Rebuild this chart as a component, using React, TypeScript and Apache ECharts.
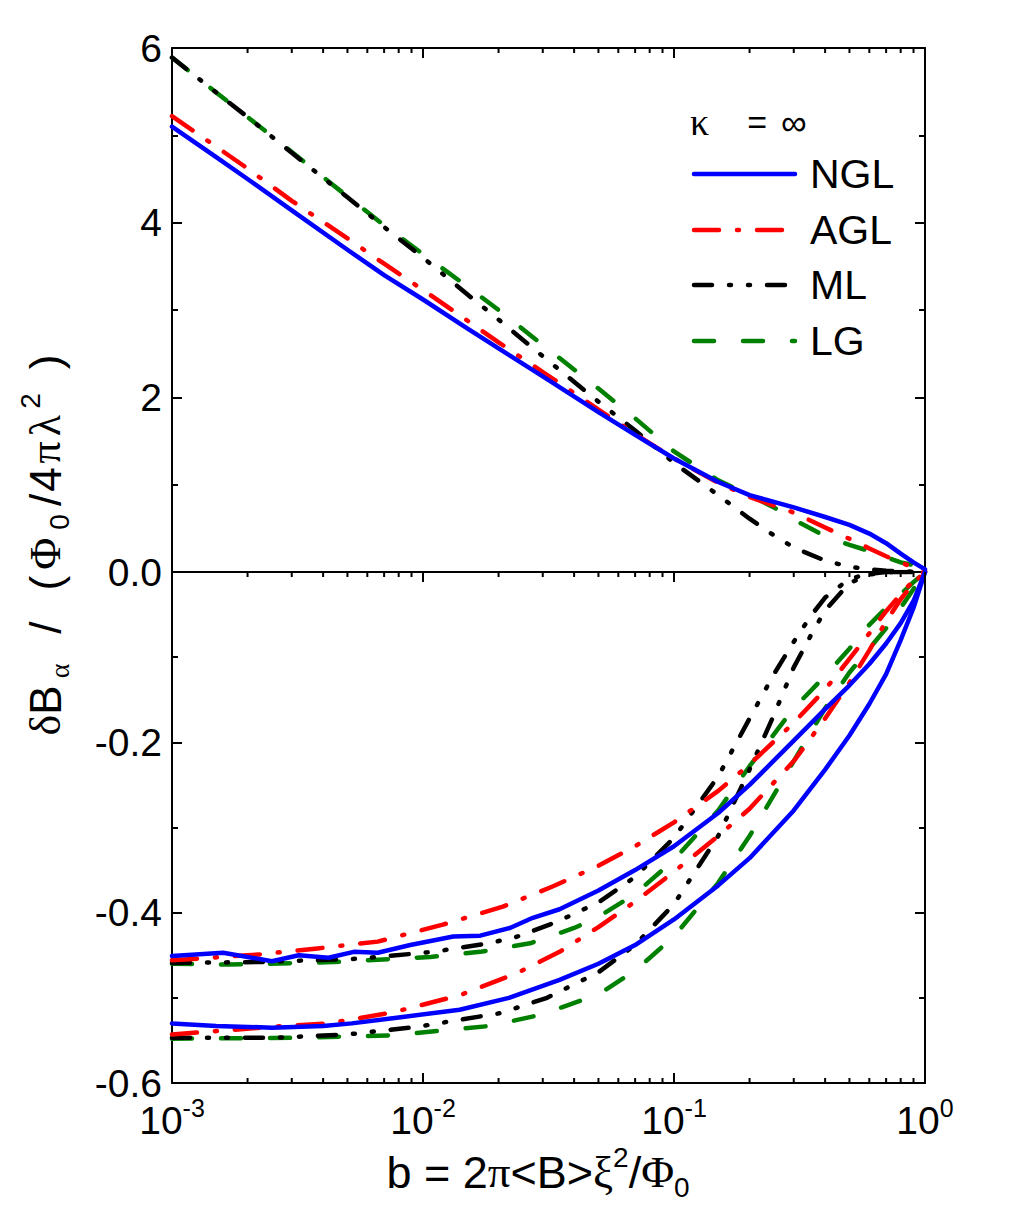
import React, { useEffect, useRef } from "react";
import * as echarts from "echarts";

// ---------- data (b, value) ----------
// upper panel (0 .. 6)
const nglTop: number[][] = [[0.001,5.10],[0.0015,4.75],[0.002,4.50],[0.003,4.14],[0.005,3.69],[0.007,3.40],[0.01,3.12],[0.015,2.79],[0.02,2.56],[0.03,2.24],[0.05,1.83],[0.07,1.57],[0.1,1.30],[0.15,1.03],[0.2,0.88],[0.3,0.74],[0.4,0.63],[0.5,0.54],[0.6,0.44],[0.7,0.33],[0.8,0.21],[0.9,0.11],[1.0,0.03]];
const aglTop: number[][] = [[0.001,5.22],[0.0015,4.87],[0.002,4.62],[0.003,4.25],[0.005,3.82],[0.007,3.53],[0.01,3.23],[0.015,2.88],[0.02,2.63],[0.03,2.29],[0.05,1.86],[0.07,1.58],[0.1,1.30],[0.15,1.02],[0.2,0.86],[0.3,0.68],[0.4,0.51],[0.5,0.38],[0.6,0.27],[0.7,0.18],[0.8,0.11],[0.9,0.05],[1.0,0.01]];
const mlTop: number[][] = [[0.001,5.89],[0.0015,5.49],[0.002,5.21],[0.003,4.80],[0.005,4.29],[0.007,3.95],[0.01,3.60],[0.015,3.18],[0.02,2.89],[0.03,2.47],[0.05,1.95],[0.07,1.62],[0.1,1.25],[0.15,0.88],[0.2,0.61],[0.25,0.42],[0.3,0.28],[0.4,0.13],[0.5,0.06],[0.6,0.03],[0.7,0.015],[0.8,0.008],[0.9,0.003],[1.0,0]];
const lgTop: number[][] = [[0.001,5.89],[0.0015,5.49],[0.002,5.21],[0.003,4.81],[0.005,4.30],[0.007,3.97],[0.01,3.64],[0.015,3.27],[0.02,3.00],[0.03,2.60],[0.05,2.10],[0.07,1.76],[0.1,1.38],[0.15,1.05],[0.2,0.88],[0.25,0.74],[0.3,0.60],[0.4,0.41],[0.5,0.31],[0.6,0.24],[0.7,0.17],[0.8,0.11],[0.9,0.08],[1.0,0.05]];

// lower panel (-0.6 .. 0), set A (starting near -0.45) and set B (starting near -0.54)
const nglA: number[][] = [[0.001,-0.451],[0.0016,-0.447],[0.0025,-0.457],[0.0032,-0.450],[0.0042,-0.453],[0.0053,-0.446],[0.0066,-0.447],[0.0089,-0.438],[0.0132,-0.428],[0.0169,-0.427],[0.0222,-0.418],[0.0274,-0.406],[0.035,-0.396],[0.05,-0.374],[0.07,-0.350],[0.1,-0.322],[0.15,-0.283],[0.2,-0.250],[0.3,-0.198],[0.4,-0.161],[0.5,-0.133],[0.6,-0.108],[0.7,-0.084],[0.8,-0.060],[0.9,-0.034],[1.0,0]];
const nglB: number[][] = [[0.001,-0.530],[0.0015,-0.533],[0.0025,-0.535],[0.004,-0.533],[0.0052,-0.530],[0.008,-0.523],[0.014,-0.514],[0.022,-0.500],[0.035,-0.479],[0.05,-0.460],[0.07,-0.438],[0.1,-0.408],[0.15,-0.368],[0.2,-0.336],[0.3,-0.280],[0.4,-0.232],[0.5,-0.192],[0.6,-0.155],[0.7,-0.120],[0.8,-0.080],[0.9,-0.042],[1.0,0]];
const aglA: number[][] = [[0.001,-0.456],[0.00224,-0.449],[0.0038,-0.442],[0.0066,-0.434],[0.012,-0.414],[0.0208,-0.393],[0.033,-0.369],[0.05,-0.345],[0.07,-0.322],[0.1,-0.294],[0.15,-0.257],[0.2,-0.226],[0.3,-0.177],[0.4,-0.138],[0.5,-0.102],[0.6,-0.072],[0.7,-0.046],[0.8,-0.026],[0.9,-0.010],[1.0,0]];
const aglB: number[][] = [[0.001,-0.543],[0.0025,-0.534],[0.0042,-0.530],[0.0076,-0.517],[0.014,-0.497],[0.0237,-0.471],[0.035,-0.446],[0.05,-0.417],[0.07,-0.387],[0.1,-0.352],[0.15,-0.310],[0.2,-0.278],[0.3,-0.222],[0.4,-0.172],[0.5,-0.130],[0.6,-0.092],[0.7,-0.058],[0.8,-0.032],[0.9,-0.013],[1.0,0]];
const mlA: number[][] = [[0.001,-0.459],[0.0022,-0.458],[0.0056,-0.454],[0.011,-0.446],[0.0173,-0.437],[0.0228,-0.430],[0.034,-0.411],[0.05,-0.388],[0.07,-0.358],[0.1,-0.312],[0.15,-0.240],[0.2,-0.172],[0.25,-0.120],[0.3,-0.082],[0.35,-0.052],[0.4,-0.030],[0.5,-0.008],[0.6,-0.002],[0.7,0],[0.8,0],[0.9,0],[1.0,0]];
const mlB: number[][] = [[0.001,-0.547],[0.0025,-0.547],[0.005,-0.543],[0.0095,-0.534],[0.0203,-0.518],[0.0312,-0.500],[0.05,-0.470],[0.07,-0.438],[0.1,-0.390],[0.15,-0.310],[0.2,-0.232],[0.25,-0.168],[0.3,-0.112],[0.35,-0.075],[0.4,-0.045],[0.5,-0.013],[0.6,-0.003],[0.7,0],[0.8,0],[0.9,0],[1.0,0]];
const lgA: number[][] = [[0.001,-0.460],[0.0017,-0.461],[0.0044,-0.458],[0.0107,-0.452],[0.0169,-0.446],[0.0267,-0.436],[0.04,-0.418],[0.05,-0.405],[0.07,-0.378],[0.1,-0.338],[0.15,-0.280],[0.2,-0.228],[0.3,-0.160],[0.4,-0.122],[0.5,-0.090],[0.6,-0.062],[0.7,-0.042],[0.8,-0.026],[0.9,-0.012],[1.0,0]];
const lgB: number[][] = [[0.001,-0.548],[0.003,-0.547],[0.0076,-0.544],[0.0185,-0.533],[0.0293,-0.520],[0.05,-0.496],[0.07,-0.468],[0.1,-0.428],[0.15,-0.365],[0.2,-0.310],[0.3,-0.222],[0.4,-0.160],[0.5,-0.118],[0.6,-0.090],[0.7,-0.066],[0.8,-0.042],[0.9,-0.020],[1.0,0]];

// axes
const X_MIN = 0.001;
const X_MAX = 1;
const X_DECADES = [-3, -2, -1, 0];
const TOP_Y = { min: 0, max: 6, interval: 2 };
const BOT_Y = { min: -0.6, max: 0, interval: 0.2 };

const LEGEND_NAMES = ["NGL", "AGL", "ML", "LG"];

const SANS = '"Liberation Sans", Arial, sans-serif';
const SERIF = '"Liberation Serif", "Times New Roman", serif';

const STYLES: Record<string, { color: string; dash: any }> = {
  NGL: { color: "#0000ff", dash: "solid" },
  AGL: { color: "#ff0000", dash: [25, 18, 2, 18] },
  ML: { color: "#000000", dash: [18, 17, 2, 17, 2, 17] },
  LG: { color: "#008000", dash: [20, 29] },
};
const LINE_W = 4.5;

function lineSeries(name: string, data: number[][], panel: number) {
  const st = STYLES[name];
  return {
    type: "line",
    name,
    data,
    xAxisIndex: panel === 0 ? 0 : 2,
    yAxisIndex: panel === 0 ? 0 : 2,
    showSymbol: false,
    symbol: "none",
    smooth: false,
    clip: true,
    z: 3,
    lineStyle: { color: st.color, width: LINE_W, type: st.dash, cap: "round", join: "round" },
  };
}

function tickSeries(xIdx: number, yIdx: number, yLow: number, yHigh: number, low: boolean, high: boolean) {
  const data: number[][] = [];
  X_DECADES.forEach((e) => {
    data.push([Math.pow(10, e), yLow, 1]);
    if (e < 0) for (let k = 2; k <= 9; k++) data.push([k * Math.pow(10, e), yLow, 0]);
  });
  return {
    type: "custom",
    xAxisIndex: xIdx,
    yAxisIndex: yIdx,
    clip: false,
    silent: true,
    z: 5,
    encode: { x: 0, y: 1 },
    data,
    renderItem: (params: any, api: any) => {
      const v = api.value(0);
      const L = api.value(2) === 1 ? 10 : 5;
      const pl = api.coord([v, yLow]);
      const ph = api.coord([v, yHigh]);
      const children: any[] = [];
      const st = { stroke: "#000", lineWidth: 2 };
      if (low) children.push({ type: "line", shape: { x1: pl[0], y1: pl[1], x2: pl[0], y2: pl[1] - L }, style: st });
      if (high) children.push({ type: "line", shape: { x1: ph[0], y1: ph[1], x2: ph[0], y2: ph[1] + L }, style: st });
      return { type: "group", children };
    },
  };
}

function buildOption() {
  const axisLine = { show: true, onZero: false, lineStyle: { color: "#000", width: 2 } };
  const baseX = {
    type: "log",
    logBase: 10,
    min: X_MIN,
    max: X_MAX,
    axisLine,
    axisTick: { show: false },
    axisLabel: { show: false },
    splitLine: { show: false },
  };
  const yTick = { show: true, inside: true, length: 10, lineStyle: { color: "#000", width: 2 } };
  const yMinor = { show: true, splitNumber: 2, length: 6, lineStyle: { color: "#000", width: 2 } };
  const labelStyle = { color: "#000", fontSize: 39, fontFamily: SANS, margin: 10 };

  const legendGraphics: any[] = [];
  const legendY = [174, 230, 285, 341];
  LEGEND_NAMES.forEach((n, i) => {
    const st = STYLES[n];
    legendGraphics.push({
      type: "line",
      shape: { x1: 694, y1: legendY[i], x2: 795, y2: legendY[i] },
      style: {
        stroke: st.color,
        lineWidth: LINE_W,
        lineDash: st.dash === "solid" ? null : st.dash,
        lineCap: "round",
      },
      z: 10,
    });
    legendGraphics.push({
      type: "text",
      x: 810,
      y: legendY[i],
      style: { text: n, fill: "#000", fontSize: 41, fontFamily: SANS, verticalAlign: "middle", align: "left" },
      z: 10,
    });
  });

  const T = 44;
  const yTitleRich = {
    d: { fontSize: T, fontFamily: SERIF, fill: "#000" },
    a: { fontSize: T, fontFamily: SANS, fill: "#000" },
    sa: { fontSize: 28, fontFamily: SERIF, fill: "#000", padding: [28, 0, 0, 7] },
    s1: { fontSize: T, fontFamily: SANS, fill: "#000", padding: [0, 0, 0, 30] },
    s2: { fontSize: T, fontFamily: SANS, fill: "#000", padding: [0, 0, 0, 31] },
    g1: { fontSize: T, fontFamily: SERIF, fill: "#000", padding: [0, 0, 0, 6] },
    s0: { fontSize: 28, fontFamily: SANS, fill: "#000", padding: [28, 0, 0, 8] },
    s3: { fontSize: T, fontFamily: SANS, fill: "#000", padding: [0, 0, 0, 8] },
    s4: { fontSize: T, fontFamily: SANS, fill: "#000", padding: [0, 0, 0, 2] },
    g2: { fontSize: T, fontFamily: SERIF, fill: "#000", padding: [0, 0, 0, 4] },
    g3: { fontSize: T, fontFamily: SERIF, fill: "#000", padding: [0, 0, 0, 5] },
    sp: { fontSize: 28, fontFamily: SANS, fill: "#000", padding: [0, 0, 30, 6] },
    s5: { fontSize: T, fontFamily: SANS, fill: "#000", padding: [0, 0, 0, 24] },
  };

  return {
    animation: false,
    backgroundColor: "#fff",
    grid: [
      { left: 172, top: 48, width: 753, height: 524 },
      { left: 172, top: 572, width: 753, height: 511 },
    ],
    xAxis: [
      { ...baseX, gridIndex: 0, position: "bottom" },
      { ...baseX, gridIndex: 0, position: "top" },
      {
        ...baseX,
        gridIndex: 1,
        position: "bottom",
        axisLabel: {
          show: true,
          margin: 12,
          showMinLabel: true,
          showMaxLabel: true,
          hideOverlap: false,
          formatter: (v: number) => `{b|10}{s|${Math.round(Math.log10(v))}}`,
          rich: {
            b: { fontSize: 39, fontFamily: SANS, color: "#000" },
            s: { fontSize: 25, fontFamily: SANS, color: "#000", padding: [0, 0, 26, 0] },
          },
        },
      },
      { ...baseX, gridIndex: 1, position: "top", axisLine: { show: false } },
    ],
    yAxis: [
      {
        type: "value", gridIndex: 0, position: "left", ...TOP_Y, axisLine, axisTick: yTick, minorTick: yMinor,
        splitLine: { show: false },
        axisLabel: { ...labelStyle, formatter: (v: number) => (v === 0 ? "0.0" : String(v)) },
      },
      {
        type: "value", gridIndex: 0, position: "right", ...TOP_Y, axisLine, axisTick: yTick, minorTick: yMinor,
        splitLine: { show: false }, axisLabel: { show: false },
      },
      {
        type: "value", gridIndex: 1, position: "left", ...BOT_Y, axisLine, axisTick: yTick, minorTick: yMinor,
        splitLine: { show: false },
        axisLabel: { ...labelStyle, formatter: (v: number) => (Math.abs(v) < 1e-9 ? "" : v.toFixed(1)) },
      },
      {
        type: "value", gridIndex: 1, position: "right", ...BOT_Y, axisLine, axisTick: yTick, minorTick: yMinor,
        splitLine: { show: false }, axisLabel: { show: false },
      },
    ],
    series: [
      lineSeries("LG", lgTop, 0),
      lineSeries("ML", mlTop, 0),
      lineSeries("AGL", aglTop, 0),
      lineSeries("NGL", nglTop, 0),
      lineSeries("LG", lgA, 1),
      lineSeries("LG", lgB, 1),
      lineSeries("ML", mlA, 1),
      lineSeries("ML", mlB, 1),
      lineSeries("AGL", aglA, 1),
      lineSeries("AGL", aglB, 1),
      lineSeries("NGL", nglA, 1),
      lineSeries("NGL", nglB, 1),
      tickSeries(1, 0, TOP_Y.min, TOP_Y.max, false, true),
      tickSeries(2, 2, BOT_Y.min, BOT_Y.max, true, true),
    ],
    graphic: [
      ...legendGraphics,
      {
        type: "text",
        x: 690,
        y: 122,
        style: {
          text: "{g|κ}{e|=}{s|∞}",
          verticalAlign: "middle",
          align: "left",
          fill: "#000",
          rich: {
            g: { fontSize: 38, fontFamily: SERIF, fill: "#000" },
            e: { fontSize: 34, fontFamily: SANS, fill: "#000", padding: [0, 14, 0, 38] },
            s: { fontSize: 36, fontFamily: SANS, fill: "#000" },
          },
        },
        z: 10,
      },
      {
        type: "text",
        x: 45,
        y: 545,
        rotation: Math.PI / 2,
        style: {
          text: "{d|δ}{a|B}{sa|α}{s1|/}{s2|(}{g1|Φ}{s0|0}{s3|/}{s4|4}{g2|π}{g3|λ}{sp|2}{s5|)}",
          align: "center",
          verticalAlign: "middle",
          fill: "#000",
          rich: yTitleRich,
        },
        z: 10,
      },
      {
        type: "text",
        x: 538,
        y: 1172,
        style: {
          text: "{s|b = 2}{g|π}{s|<B>}{g|ξ}{sup|2}{s|/}{g|Φ}{sub|0}",
          align: "center",
          verticalAlign: "middle",
          fill: "#000",
          rich: {
            s: { fontSize: 45, fontFamily: SANS, fill: "#000" },
            g: { fontSize: 45, fontFamily: SERIF, fill: "#000" },
            sub: { fontSize: 28, fontFamily: SANS, fill: "#000", padding: [30, 0, 0, 0] },
            sup: { fontSize: 28, fontFamily: SANS, fill: "#000", padding: [0, 0, 30, 0] },
          },
        },
        z: 10,
      },
    ],
  };
}

export default function App() {
  const ref = useRef<HTMLDivElement>(null);
  useEffect(() => {
    if (!ref.current) return;
    const chart = echarts.init(ref.current, null as any, { renderer: "svg" });
    chart.setOption(buildOption() as any);
    return () => chart.dispose();
  }, []);
  return (
    <div
      ref={ref}
      style={{ position: "absolute", left: 0, top: 0, width: 1025, height: 1225, background: "#fff" }}
    />
  );
}
